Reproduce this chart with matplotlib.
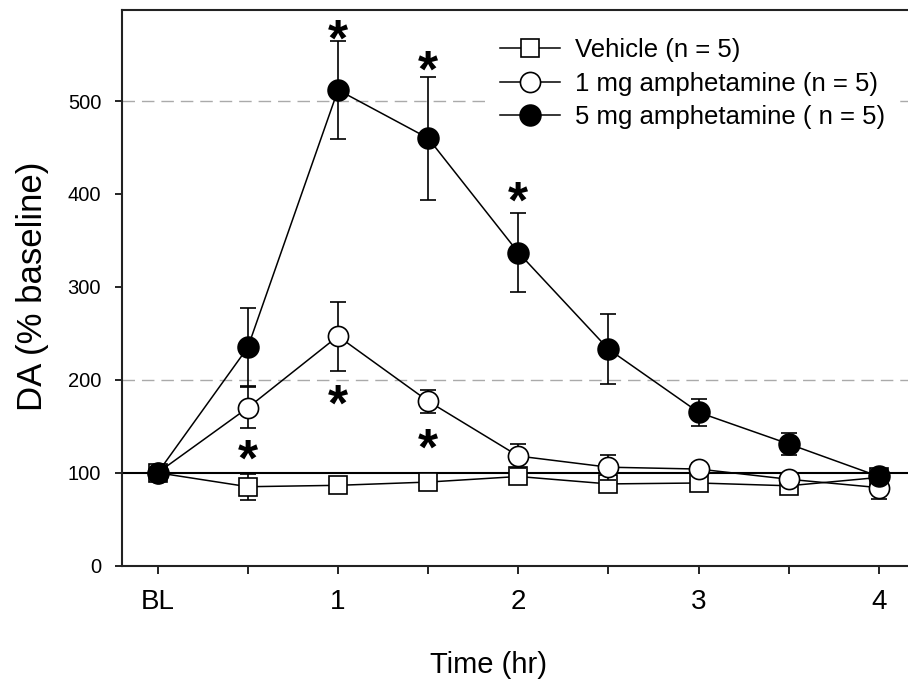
import matplotlib.pyplot as plt

plt.rcParams['font.family'] = ['Liberation Sans', 'DejaVu Sans']

# time points (hr), BL = 0
times = [0, 0.5, 1, 1.5, 2, 2.5, 3, 3.5, 4]
tick_labels = ['BL', '', '1', '', '2', '', '3', '', '4']

vehicle = [100, 85, 86.5, 90, 96, 88, 89, 86, 95]
vehicle_sem = [0, 14, 3, 4, 5, 4, 4, 4, 4]

amph1 = [100, 170, 247, 177, 118, 106, 104, 93, 84]
amph1_sem = [0, 22, 37, 12.5, 12.5, 13.5, 6, 6, 12]

amph5 = [100, 235, 512, 460, 337, 233, 165, 131, 96]
amph5_sem = [0, 42, 53, 66, 43, 37.5, 14.5, 12, 5]

# significance marks (x, y)
star_x = [1, 1.5, 2, 0.5, 1, 1.5]
star_y = [575, 542, 401, 123, 182, 135]

fig = plt.figure(figsize=(9.08, 6.86), dpi=100)
ax = fig.add_axes([122 / 908, 120.3 / 686, 786 / 908, 555.7 / 686])

ax.axhline(100, color='black', lw=1.5, zorder=1)
for yv in [200, 500]:
    ax.axhline(yv, color='#aaaaaa', lw=1.0, ls=(0, (9, 5)), zorder=0)

series = [
    (vehicle, vehicle_sem, 's', 'white', 12.5, 'Vehicle (n = 5)'),
    (amph1, amph1_sem, 'o', 'white', 14.5, '1 mg amphetamine (n = 5)'),
    (amph5, amph5_sem, 'o', 'black', 15, '5 mg amphetamine ( n = 5)'),
]
for i, (vals, sem, mk, fc, ms, lab) in enumerate(series):
    ax.errorbar(times, vals, yerr=sem, fmt='none', ecolor='black',
                elinewidth=1.2, capsize=6, capthick=1.2, zorder=2 + 2 * i)
    ax.plot(times, vals, color='black', lw=1.1, marker=mk, ms=ms,
            mfc=fc, mec='black', mew=1.2, label=lab, zorder=3 + 2 * i)

for sx, sy in zip(star_x, star_y):
    ax.annotate('*', xy=(sx, sy), xytext=(0, -17.5), textcoords='offset points',
                ha='center', va='baseline', fontsize=37, fontweight='bold',
                zorder=10)

ax.set_xlim(-0.198, 4.161)
ax.set_ylim(0, 598)
ax.set_xticks(times)
ax.set_xticklabels(tick_labels)
ax.set_yticks([0, 100, 200, 300, 400, 500])

ax.spines['right'].set_visible(False)
for s in ['left', 'top', 'bottom']:
    ax.spines[s].set_linewidth(1.5)
    ax.spines[s].set_color('#222222')

ax.tick_params(axis='x', direction='out', length=6, width=1.2, labelsize=20, pad=11)
ax.tick_params(axis='y', direction='out', length=5, width=1.2, labelsize=14.5, pad=10)

ax.set_xlabel('Time (hr)', fontsize=21)
ax.xaxis.set_label_coords((488 - 122) / 786, -0.153)
ax.set_ylabel('DA (% baseline)', fontsize=25)
ax.yaxis.set_label_coords(-0.093, 0.503)

leg = ax.legend(loc='upper left', bbox_to_anchor=(490 / 908, 1 - 28 / 686),
                bbox_transform=fig.transFigure, fontsize=18.5, frameon=True,
                fancybox=False, edgecolor='white', framealpha=1,
                handlelength=2.33, handletextpad=0.58, labelspacing=0.36,
                borderpad=0.4, borderaxespad=0)
leg.set_zorder(20)

fig.savefig('out.png', dpi=100)
